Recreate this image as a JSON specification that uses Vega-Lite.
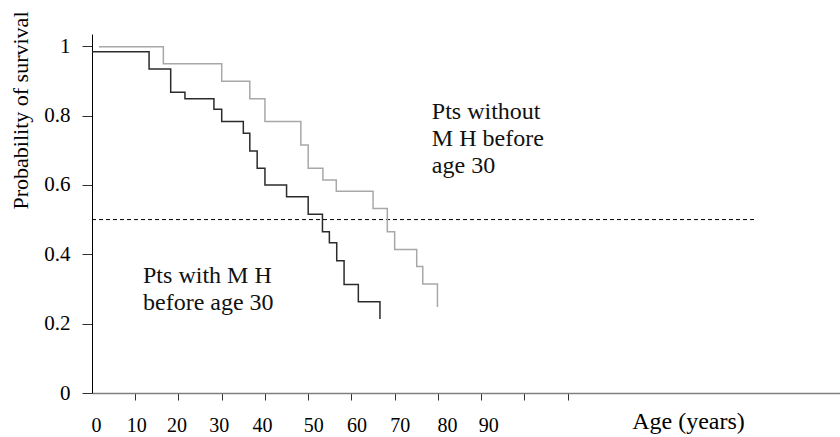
{
  "$schema": "https://vega.github.io/schema/vega-lite/v6.json",
  "width": 748,
  "height": 359,
  "autosize": {"type": "none"},
  "padding": {"left": 92, "top": 34, "right": 0, "bottom": 44},
  "background": "white",
  "config": {"view": {"stroke": null}, "font": "Liberation Serif"},
  "datasets": {
    "curves": [
      {"group": "with", "age": 0, "surv": 0.984},
      {"group": "with", "age": 13.2, "surv": 0.934},
      {"group": "with", "age": 18.2, "surv": 0.867},
      {"group": "with", "age": 21.5, "surv": 0.848},
      {"group": "with", "age": 28.2, "surv": 0.818},
      {"group": "with", "age": 30.0, "surv": 0.783},
      {"group": "with", "age": 35.0, "surv": 0.749},
      {"group": "with", "age": 36.5, "surv": 0.698},
      {"group": "with", "age": 38.2, "surv": 0.648},
      {"group": "with", "age": 40.0, "surv": 0.600},
      {"group": "with", "age": 45.0, "surv": 0.566},
      {"group": "with", "age": 50.0, "surv": 0.515},
      {"group": "with", "age": 53.3, "surv": 0.465},
      {"group": "with", "age": 54.9, "surv": 0.433},
      {"group": "with", "age": 56.6, "surv": 0.381},
      {"group": "with", "age": 58.3, "surv": 0.313},
      {"group": "with", "age": 61.6, "surv": 0.263},
      {"group": "with", "age": 66.6, "surv": 0.213},
      {"group": "without", "age": 1.6, "surv": 0.998},
      {"group": "without", "age": 16.5, "surv": 0.949},
      {"group": "without", "age": 30.0, "surv": 0.899},
      {"group": "without", "age": 36.5, "surv": 0.848},
      {"group": "without", "age": 40.0, "surv": 0.783},
      {"group": "without", "age": 48.3, "surv": 0.715},
      {"group": "without", "age": 50.0, "surv": 0.648},
      {"group": "without", "age": 53.4, "surv": 0.614},
      {"group": "without", "age": 56.5, "surv": 0.582},
      {"group": "without", "age": 65.0, "surv": 0.532},
      {"group": "without", "age": 68.3, "surv": 0.465},
      {"group": "without", "age": 70.0, "surv": 0.414},
      {"group": "without", "age": 75.1, "surv": 0.365},
      {"group": "without", "age": 76.5, "surv": 0.314},
      {"group": "without", "age": 79.9, "surv": 0.248}
    ],
    "ref": [{"age": 0, "age2": 153.6, "surv": 0.5}],
    "notes": [
      {"age": 78.6, "surv": 0.791, "label": "Pts without"},
      {"age": 78.6, "surv": 0.712, "label": "M H before"},
      {"age": 78.6, "surv": 0.633, "label": "age 30"},
      {"age": 11.8, "surv": 0.318, "label": "Pts with M H"},
      {"age": 11.8, "surv": 0.238, "label": "before age 30"}
    ]
  },
  "layer": [
    {
      "data": {"name": "ref"},
      "mark": {"type": "rule", "strokeDash": [4, 3], "color": "#000000", "strokeWidth": 1},
      "encoding": {
        "x": {
          "field": "age", "type": "quantitative",
          "scale": {"domain": [0, 173], "nice": false, "zero": false},
          "axis": {
            "title": "Age (years)", "titleFont": "Liberation Serif", "titleFontSize": 24, "titleFontWeight": "normal", "titleColor": "#000000",
            "titleX": 596, "titleY": 35, "titleAlign": "center", "titleBaseline": "alphabetic",
            "values": [0, 10, 20, 30, 40, 50, 60, 70, 80, 90, 100, 110],
            "labelExpr": "datum.value <= 90 ? datum.label : ''",
            "grid": false, "domainColor": "#808080", "domainWidth": 1.5,
            "tickColor": "#333333", "tickSize": 7, "tickWidth": 1,
            "tickOpacity": {"condition": {"test": "datum.value == 0", "value": 0}, "value": 1},
            "labelOffset": {"condition": [
              {"test": "datum.value == 0", "value": 4},
              {"test": "datum.value == 20", "value": -2},
              {"test": "datum.value == 30 || datum.value == 40", "value": -3},
              {"test": "datum.value >= 50 && datum.value <= 70", "value": 5},
              {"test": "datum.value == 80", "value": 9},
              {"test": "datum.value == 90", "value": 7}
            ], "value": 1},
            "labelFont": "Liberation Serif", "labelFontSize": 20, "labelColor": "#000000", "labelPadding": 15,
            "labelFlush": false, "labelOverlap": false
          }
        },
        "x2": {"field": "age2"},
        "y": {
          "field": "surv", "type": "quantitative",
          "scale": {"domain": [0, 1.035], "nice": false, "zero": false},
          "axis": {
            "title": "Probability of survival", "titleFont": "Liberation Serif", "titleFontSize": 22, "titleFontWeight": "normal", "titleColor": "#000000",
            "titleX": -65, "titleY": 76, "titleAngle": -90, "titleAlign": "center", "titleBaseline": "alphabetic",
            "values": [0, 0.2, 0.4, 0.6, 0.8, 1], "format": "~g",
            "grid": false, "domainColor": "#000000", "domainWidth": 1,
            "tickColor": "#333333", "tickSize": 10, "tickWidth": 1,
            "labelFont": "Liberation Serif", "labelFontSize": 21, "labelColor": "#000000", "labelPadding": 12,
            "labelFlush": false, "labelOverlap": false
          }
        }
      }
    },
    {
      "data": {"name": "curves"},
      "mark": {"type": "line", "interpolate": "step-after", "strokeWidth": 1.5},
      "encoding": {
        "x": {"field": "age", "type": "quantitative", "title": "Age (years)"},
        "y": {"field": "surv", "type": "quantitative", "title": "Probability of survival"},
        "color": {"field": "group", "type": "nominal", "scale": {"domain": ["with", "without"], "range": ["#2b2b2b", "#a8a8a8"]}, "legend": null},
        "order": {"field": "age", "type": "quantitative"}
      }
    },
    {
      "data": {"name": "notes"},
      "mark": {"type": "text", "align": "left", "baseline": "alphabetic", "fontSize": 24, "font": "Liberation Serif", "color": "#111111"},
      "encoding": {
        "x": {"field": "age", "type": "quantitative", "title": "Age (years)"},
        "y": {"field": "surv", "type": "quantitative", "title": "Probability of survival"},
        "text": {"field": "label", "type": "nominal"}
      }
    }
  ]
}
